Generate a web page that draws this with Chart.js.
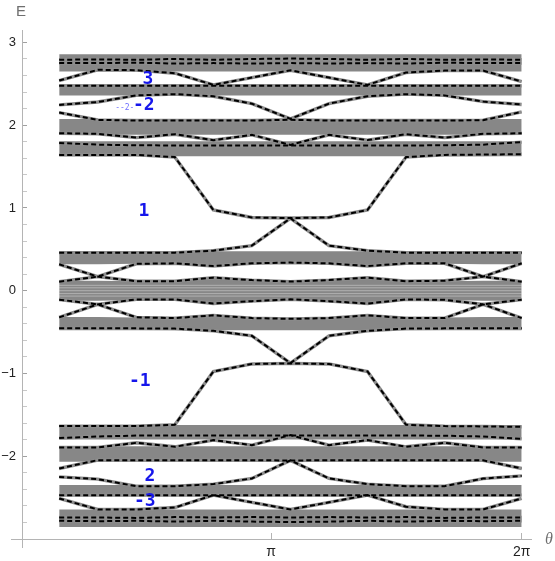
<!DOCTYPE html>
<html><head><meta charset="utf-8">
<script src="https://cdn.jsdelivr.net/npm/chart.js@4.4.1/dist/chart.umd.min.js"></script>
<style>html,body{margin:0;padding:0;background:#fff}#wrap{width:555px;height:561px}</style>
</head><body><div id="wrap"><canvas id="c" width="555" height="561"></canvas></div>
<script>
// sample angles theta_k
const theta = [0.4833,0.9666,1.4500,1.9333,2.4166,2.8999,3.3833,3.8666,4.3499,4.8332,5.3165,5.7999,6.2832];

// axis ticks
const xTickValues = [Math.PI, 2*Math.PI];
const xTickLabels = ['\u03c0', '2\u03c0'];
const yTickValues = [-2,-1,0,1,2,3];
const yTickLabels = ['\u22122','\u22121','0','1','2','3'];

// gray bands (lower / upper edges)
const band1Lo = [2.648,2.648,2.648,2.648,2.648,2.648,2.648,2.648,2.648,2.648,2.648,2.648,2.648];
const band1Hi = [2.858,2.858,2.858,2.858,2.858,2.858,2.858,2.858,2.858,2.858,2.858,2.858,2.858];
const band2Lo = [2.358,2.358,2.358,2.358,2.358,2.358,2.358,2.358,2.358,2.358,2.358,2.358,2.358];
const band2Hi = [2.496,2.496,2.496,2.496,2.496,2.496,2.496,2.496,2.496,2.496,2.496,2.496,2.496];
const band3Lo = [1.883,1.883,1.883,1.883,1.883,1.883,1.883,1.883,1.883,1.883,1.883,1.883,1.883];
const band3Hi = [2.074,2.074,2.074,2.074,2.074,2.074,2.074,2.074,2.074,2.074,2.074,2.074,2.074];
const band4Lo = [1.625,1.625,1.625,1.625,1.625,1.625,1.625,1.625,1.625,1.625,1.625,1.625,1.625];
const band4Hi = [1.805,1.805,1.805,1.805,1.805,1.805,1.805,1.805,1.805,1.805,1.805,1.805,1.805];
const band5Lo = [0.319,0.319,0.325,0.331,0.298,0.331,0.340,0.331,0.298,0.331,0.325,0.319,0.319];
const band5Hi = [0.478,0.478,0.478,0.478,0.478,0.478,0.478,0.478,0.478,0.478,0.478,0.478,0.478];
const band0Lo = [-0.121,-0.121,-0.112,-0.112,-0.155,-0.126,-0.106,-0.126,-0.155,-0.112,-0.112,-0.121,-0.121];
const band0Hi = [0.121,0.121,0.115,0.115,0.158,0.128,0.110,0.128,0.158,0.115,0.115,0.121,0.121];
const bandN5Lo = [-0.478,-0.478,-0.478,-0.478,-0.478,-0.478,-0.478,-0.478,-0.478,-0.478,-0.478,-0.478,-0.478];
const bandN5Hi = [-0.319,-0.319,-0.325,-0.331,-0.298,-0.331,-0.340,-0.331,-0.298,-0.331,-0.325,-0.319,-0.319];
const bandN4Lo = [-1.797,-1.797,-1.797,-1.797,-1.797,-1.797,-1.797,-1.797,-1.797,-1.797,-1.797,-1.797,-1.797];
const bandN4Hi = [-1.624,-1.624,-1.624,-1.624,-1.624,-1.624,-1.624,-1.624,-1.624,-1.624,-1.624,-1.624,-1.624];
const bandN3Lo = [-2.068,-2.068,-2.068,-2.068,-2.068,-2.068,-2.068,-2.068,-2.068,-2.068,-2.068,-2.068,-2.068];
const bandN3Hi = [-1.878,-1.878,-1.878,-1.878,-1.878,-1.878,-1.878,-1.878,-1.878,-1.878,-1.878,-1.878,-1.878];
const bandN2Lo = [-2.483,-2.483,-2.483,-2.483,-2.483,-2.483,-2.483,-2.483,-2.483,-2.483,-2.483,-2.483,-2.483];
const bandN2Hi = [-2.349,-2.349,-2.349,-2.349,-2.349,-2.349,-2.349,-2.349,-2.349,-2.349,-2.349,-2.349,-2.349];
const bandN1Lo = [-2.854,-2.854,-2.854,-2.854,-2.854,-2.854,-2.854,-2.854,-2.854,-2.854,-2.854,-2.854,-2.854];
const bandN1Hi = [-2.643,-2.643,-2.643,-2.643,-2.643,-2.643,-2.643,-2.643,-2.643,-2.643,-2.643,-2.643,-2.643];

// light streaks inside the central band (level values)
const streakLevels = [0.065, 0.035, 0.0, -0.035, -0.065];

// edge-state curves (E > 0)
const curveA = [2.790,2.795,2.790,2.800,2.790,2.800,2.805,2.800,2.790,2.800,2.790,2.795,2.790];
const curveB = [2.750,2.750,2.755,2.745,2.750,2.745,2.750,2.745,2.750,2.745,2.755,2.750,2.750];
const curveC = [2.539,2.669,2.665,2.628,2.487,2.575,2.664,2.575,2.487,2.636,2.660,2.660,2.527];
const curveD = [2.475,2.475,2.475,2.475,2.475,2.475,2.475,2.475,2.475,2.475,2.475,2.475,2.475];
const curveE = [2.245,2.280,2.360,2.375,2.350,2.260,2.077,2.260,2.350,2.375,2.360,2.285,2.250];
const curveF = [2.152,2.064,2.056,2.056,2.056,2.056,2.065,2.056,2.056,2.056,2.056,2.060,2.160];
const curveG = [1.903,1.895,1.850,1.891,1.818,1.883,1.762,1.883,1.820,1.891,1.850,1.895,1.903];
const curveH = [1.785,1.765,1.757,1.755,1.755,1.755,1.755,1.755,1.755,1.755,1.757,1.765,1.795];
const curveI = [1.641,1.641,1.641,1.615,0.976,0.885,0.878,0.885,0.976,1.615,1.641,1.645,1.650];
const curveJ = [0.458,0.458,0.458,0.460,0.484,0.545,0.875,0.545,0.484,0.460,0.458,0.458,0.458];
const curveK = [0.319,0.170,0.115,0.115,0.158,0.128,0.110,0.128,0.158,0.115,0.120,0.170,0.331];
const curveL = [0.109,0.170,0.325,0.331,0.298,0.331,0.340,0.331,0.298,0.331,0.331,0.170,0.109];
// edge-state curves (E < 0)
const curveNA = [-2.780,-2.785,-2.780,-2.790,-2.780,-2.790,-2.795,-2.790,-2.780,-2.790,-2.780,-2.785,-2.780];
const curveNB = [-2.740,-2.740,-2.745,-2.735,-2.740,-2.735,-2.740,-2.735,-2.740,-2.735,-2.745,-2.740,-2.740];
const curveNC = [-2.510,-2.643,-2.643,-2.620,-2.470,-2.557,-2.643,-2.557,-2.470,-2.610,-2.643,-2.643,-2.510];
const curveND = [-2.470,-2.470,-2.470,-2.470,-2.470,-2.470,-2.470,-2.470,-2.470,-2.470,-2.470,-2.470,-2.470];
const curveNE = [-2.250,-2.277,-2.362,-2.362,-2.337,-2.268,-2.050,-2.268,-2.337,-2.362,-2.362,-2.270,-2.237];
const curveNF = [-2.148,-2.047,-2.047,-2.047,-2.047,-2.047,-2.052,-2.047,-2.047,-2.047,-2.047,-2.050,-2.148];
const curveNG = [-1.894,-1.894,-1.838,-1.886,-1.805,-1.866,-1.745,-1.866,-1.805,-1.886,-1.838,-1.894,-1.894];
const curveNH = [-1.780,-1.762,-1.750,-1.750,-1.750,-1.750,-1.750,-1.750,-1.750,-1.750,-1.752,-1.762,-1.790];
const curveNI = [-1.636,-1.636,-1.636,-1.620,-0.976,-0.885,-0.878,-0.885,-0.976,-1.620,-1.636,-1.640,-1.645];
const curveNJ = [-0.455,-0.455,-0.455,-0.458,-0.484,-0.545,-0.875,-0.545,-0.484,-0.458,-0.455,-0.455,-0.455];
const curveNK = [-0.322,-0.165,-0.105,-0.105,-0.155,-0.126,-0.104,-0.126,-0.155,-0.105,-0.110,-0.165,-0.331];
const curveNL = [-0.108,-0.165,-0.322,-0.331,-0.298,-0.331,-0.340,-0.331,-0.298,-0.331,-0.331,-0.165,-0.108];

// blue annotation labels (text, theta, E)
const noteTexts = ['3', '-2', '1', '-1', '2', '-3'];
const noteTheta = [1.595, 1.545, 1.545, 1.494, 1.620, 1.557];
const noteE     = [2.548, 2.236, 0.955, -1.092, -2.237, -2.539];
const tinyNote = {text: '--2-', theta: 1.306, E: 2.209};

const bands = [[band1Lo,band1Hi],[band2Lo,band2Hi],[band3Lo,band3Hi],[band4Lo,band4Hi],[band5Lo,band5Hi],
  [band0Lo,band0Hi],[bandN5Lo,bandN5Hi],[bandN4Lo,bandN4Hi],[bandN3Lo,bandN3Hi],[bandN2Lo,bandN2Hi],[bandN1Lo,bandN1Hi]];
const curves = [curveA,curveB,curveC,curveD,curveE,curveF,curveG,curveH,curveI,curveJ,curveK,curveL,
  curveNA,curveNB,curveNC,curveND,curveNE,curveNF,curveNG,curveNH,curveNI,curveNJ,curveNK,curveNL];

const bandColor = '#878787';
const pts = arr => arr.map((v, i) => ({x: theta[i], y: v}));

const datasets = [];
bands.forEach(([lo, hi]) => {
  datasets.push({data: pts(lo), borderColor: 'rgba(0,0,0,0)', borderWidth: 1, pointRadius: 0, fill: false, order: 6});
  datasets.push({data: pts(hi), borderColor: 'rgba(0,0,0,0)', borderWidth: 1, pointRadius: 0, fill: '-1', backgroundColor: bandColor, order: 6});
});
streakLevels.forEach(v => {
  datasets.push({data: [{x: theta[0], y: v}, {x: theta[theta.length-1], y: v}], borderColor: 'rgba(255,255,255,0.35)', borderWidth: 1, pointRadius: 0, fill: false, order: 5});
});
curves.forEach(c => {
  datasets.push({data: pts(c), borderColor: '#8e8e8e', borderWidth: 3.4, pointRadius: 0, fill: false, order: 4});
});
curves.forEach(c => {
  datasets.push({data: pts(c), borderColor: '#000', borderWidth: 2, borderDash: [5, 3], pointRadius: 0, fill: false, order: 3});
});

const axisColor = '#b4b4b4';
const decor = {
  id: 'decor',
  afterDraw(chart) {
    const {ctx, chartArea: a, scales: {x, y}} = chart;
    ctx.save();
    // axis overhangs (Mathematica style)
    ctx.strokeStyle = axisColor; ctx.lineWidth = 1;
    ctx.beginPath();
    ctx.moveTo(a.left - 11, Math.round(a.bottom) + 0.5); ctx.lineTo(a.left, Math.round(a.bottom) + 0.5);
    ctx.moveTo(Math.round(a.left) + 0.5, a.bottom); ctx.lineTo(Math.round(a.left) + 0.5, a.bottom + 9);
    ctx.stroke();
    // axis titles
    ctx.fillStyle = '#6e6e6e';
    ctx.font = '15px "Liberation Sans", Arial, sans-serif';
    ctx.textAlign = 'center'; ctx.textBaseline = 'middle';
    ctx.fillText('E', a.left - 1, 12);
    ctx.font = 'italic 16px "Liberation Serif", serif';
    ctx.fillText('\u03b8', a.right + 18, a.bottom + 1);
    // blue labels
    ctx.fillStyle = 'rgb(22,22,235)';
    ctx.font = 'bold 18px "DejaVu Sans Mono", monospace';
    noteTexts.forEach((t, i) => {
      ctx.fillText(t, x.getPixelForValue(noteTheta[i]), y.getPixelForValue(noteE[i]));
    });
    ctx.fillStyle = 'rgb(110,110,255)';
    ctx.font = '8px "DejaVu Sans Mono", monospace';
    ctx.fillText(tinyNote.text, x.getPixelForValue(tinyNote.theta), y.getPixelForValue(tinyNote.E));
    ctx.restore();
  }
};

new Chart(document.getElementById('c'), {
  type: 'line',
  data: {datasets},
  options: {
    responsive: false, animation: false, events: [],
    devicePixelRatio: 1,
    layout: {padding: {top: 30, right: 24, left: 0, bottom: 0}},
    plugins: {legend: {display: false}, tooltip: {enabled: false}},
    elements: {line: {tension: 0}},
    scales: {
      x: {
        type: 'linear', min: 0.017, max: 6.40,
        afterBuildTicks: s => { s.ticks = xTickValues.map(v => ({value: v})); },
        afterFit: s => { s.height = 22; },
        ticks: {
          autoSkip: false, maxRotation: 0, padding: 11, color: '#222',
          font: {family: '"Liberation Sans", Arial, sans-serif', size: 14},
          callback: v => { const i = xTickValues.findIndex(t => Math.abs(t - v) < 1e-6); return i >= 0 ? xTickLabels[i] : ''; }
        },
        grid: {drawOnChartArea: false, drawTicks: true, tickLength: -6, color: axisColor},
        border: {display: true, color: axisColor, width: 1}
      },
      y: {
        type: 'linear', min: -3.0, max: 3.15,
        afterFit: s => { s.width = 22; },
        ticks: {
          stepSize: 0.2, includeBounds: false, autoSkip: false, padding: 11, color: '#222',
          font: {family: '"Liberation Sans", Arial, sans-serif', size: 13},
          callback: v => { const i = yTickValues.findIndex(t => Math.abs(t - v) < 1e-6); return i >= 0 ? yTickLabels[i] : ''; }
        },
        grid: {
          drawOnChartArea: false, drawTicks: true, tickLength: -5,
          color: ctx => { const v = ctx.tick ? ctx.tick.value : 0; return yTickValues.some(t => Math.abs(t - v) < 1e-6) ? '#a0a0a0' : '#c8c8c8'; }
        },
        border: {display: true, color: axisColor, width: 1}
      }
    }
  },
  plugins: [decor]
});
</script>
</body></html>
